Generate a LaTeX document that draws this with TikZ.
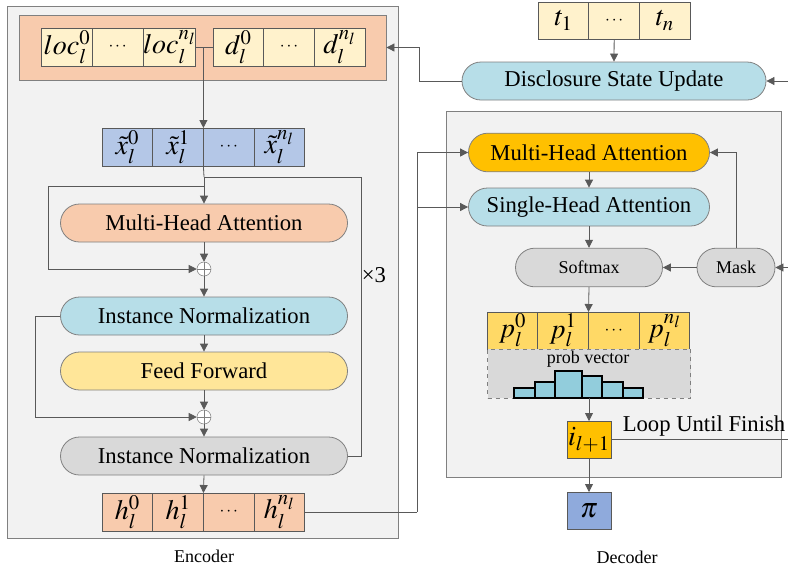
\documentclass[tikz,border=0pt]{standalone}
\usepackage{mathptmx}
\usepackage[no-math]{fontspec}
\setmainfont{Liberation Serif}
\usepackage{tikz}
\usetikzlibrary{arrows.meta, positioning, shapes.misc}
\definecolor{framegray}{HTML}{F2F2F2}
\definecolor{peach}{HTML}{F8CBAD}
\definecolor{cream}{HTML}{FFF2CC}
\definecolor{lavender}{HTML}{B4C7E7}
\definecolor{skyblue}{HTML}{B7DEE8}
\definecolor{butter}{HTML}{FFE699}
\definecolor{greyfill}{HTML}{D9D9D9}
\definecolor{amber}{HTML}{FFC000}
\definecolor{gold}{HTML}{FFD966}
\definecolor{bartone}{HTML}{92CDDC}
\definecolor{piblue}{HTML}{8FAADC}
\definecolor{linegray}{HTML}{595959}
\newcommand{\celldots}{{\fontsize{13}{15}\selectfont$\cdots$}}
\tikzset{edge/.style = {draw=linegray, line width=0.6pt, -{Triangle[length=6pt,width=6pt]}}}
\tikzset{wire/.style = {draw=linegray, line width=0.6pt}}
\tikzset{big/.style = {font=\fontsize{17}{20}\selectfont}}
\tikzset{small/.style = {font=\fontsize{13.5}{16}\selectfont}}
\tikzset{block/.style = {rounded rectangle, draw=gray, line width=0.6pt, minimum width=215.25pt, minimum height=28.5pt, inner sep=0pt, big}}
\tikzset{cell/.style = {rectangle, draw=black!65, line width=0.6pt, minimum width=38pt, minimum height=28.5pt, inner sep=0pt, outer sep=0pt, font=\fontsize{21}{24}\selectfont}}
\tikzset{plus/.style = {circle, draw=gray, fill=white, minimum size=10.5pt, inner sep=0pt,
    path picture={\draw[gray] (path picture bounding box.north) -- (path picture bounding box.south)
                               (path picture bounding box.west) -- (path picture bounding box.east);}}}

\begin{document}
\begin{tikzpicture}[x=0.75pt, y=-0.75pt]
                    \useasboundingbox (0,0) rectangle (788,569);

                    % Encoder frame
                    \draw[gray, fill=framegray, line width=0.6pt] (7,6) rectangle (398,538);

                    % State block with location and demand cells
                    \node[draw=gray, fill=peach, line width=0.6pt, minimum width=275.25pt, minimum height=48.75pt] (state) at (202.5,47.5) {};
                    \node[cell, fill=cream] (loc0) at (67,47) {$loc_l^0$};
                    \node[cell, fill=cream, right=0pt of loc0] (loc1) {\celldots};
                    \node[cell, fill=cream, right=0pt of loc1] (loc2) {$loc_l^{n_l}$};
                    \node[cell, fill=cream] (d0) at (238.3,47) {$d_l^0$};
                    \node[cell, fill=cream, right=0pt of d0] (d1) {\celldots};
                    \node[cell, fill=cream, right=0pt of d1] (d2) {$d_l^{n_l}$};

                    % Embedding row
                    \node[cell, fill=lavender] (xt0) at (127.4,147) {$\tilde{x}_l^0$};
                    \node[cell, fill=lavender, right=0pt of xt0] (xt1) {$\tilde{x}_l^1$};
                    \node[cell, fill=lavender, right=0pt of xt1] (xt2) {\celldots};
                    \node[cell, fill=lavender, right=0pt of xt2] (xt3) {$\tilde{x}_l^{n_l}$};

                    % Encoder layer
                    \node[block, fill=peach] (emha) at (204,223) {Multi-Head Attention};
                    \node[plus] (add1) at (204,269) {};
                    \node[block, fill=skyblue] (norm1) at (204,316) {Instance Normalization};
                    \node[block, fill=butter] (ffn) at (204,371) {Feed Forward};
                    \node[plus] (add2) at (204,417) {};
                    \node[block, fill=greyfill] (norm2) at (204,456) {Instance Normalization};
                    \node[big] (times) at (374,275) {×3};

                    % Encoder output row
                    \node[cell, fill=peach] (h0) at (127.4,512) {$h_l^0$};
                    \node[cell, fill=peach, right=0pt of h0] (h1) {$h_l^1$};
                    \node[cell, fill=peach, right=0pt of h1] (h2) {\celldots};
                    \node[cell, fill=peach, right=0pt of h2] (h3) {$h_l^{n_l}$};
                    \node[small] (enclabel) at (204,556) {Encoder};

                    % Decoder frame
                    \draw[gray, fill=framegray, line width=0.6pt] (446,111) rectangle (781,477);

                    % Task row and state update
                    \node[cell, fill=cream, minimum height=27.75pt] (t0) at (563.5,20.5) {$t_1$};
                    \node[cell, fill=cream, minimum height=27.75pt, right=0pt of t0] (t1) {\celldots};
                    \node[cell, fill=cream, minimum height=27.75pt, right=0pt of t1] (t2) {$t_n$};
                    \node[block, fill=skyblue, minimum width=228pt] (dsu) at (614,81) {Disclosure State Update};

                    % Decoder layer
                    \node[block, fill=amber, minimum width=180.75pt, minimum height=29pt] (dmha) at (589,152.5) {Multi-Head Attention};
                    \node[block, fill=skyblue, minimum width=180.75pt] (dsha) at (589,207) {Single-Head Attention};
                    \node[block, small, fill=greyfill, minimum width=110.25pt, minimum height=29pt] (softmax) at (589,267.5) {Softmax};
                    \node[block, small, fill=greyfill, minimum width=58.5pt, minimum height=29pt] (mask) at (736,267.5) {Mask};

                    % Probability row and vector
                    \node[cell, fill=gold, minimum height=27.75pt] (p0) at (512.5,330.5) {$p_l^0$};
                    \node[cell, fill=gold, minimum height=27.75pt, right=0pt of p0] (p1) {$p_l^1$};
                    \node[cell, fill=gold, minimum height=27.75pt, right=0pt of p1] (p2) {\celldots};
                    \node[cell, fill=gold, minimum height=27.75pt, right=0pt of p2] (p3) {$p_l^{n_l}$};
                    \node[draw=gray, dashed, fill=greyfill, minimum width=152.25pt, minimum height=36.75pt, inner sep=0pt] (prob) at (589,373.5) {};
                    \node[small] (problabel) at (588,359) {prob vector};
                    \foreach \xa/\xb/\yt in {514/535/388, 535/555/382, 555/582/371, 582/602/376, 602/623/382, 623/643/388}
                        \draw[fill=bartone, line width=0.9pt] (\xa,398) rectangle (\xb,\yt);

                    % Selected node and solution
                    \node[cell, fill=amber, minimum width=33pt, minimum height=27.75pt] (next) at (589,439.5) {$i_{l+1}$};
                    \node[cell, fill=piblue, minimum width=33pt, minimum height=27.75pt] (pi) at (589,510.5) {$\pi$};
                    \node[big] (looptext) at (704,426) {Loop Until Finish};
                    \node[small] (declabel) at (627,557) {Decoder};

                    % Free ends at the right border
                    \coordinate (fbtop) at (788,81);
                    \coordinate (fbmask) at (788,267.5);
                    \coordinate (loopend) at (788,439.5);
                    \coordinate (split) at (204,177);
                    \coordinate (res) at (204,186);
                    \coordinate (bus) at (417,512);

                    % Path from state to embedding
                    \draw[wire] (loc2.east) -- (d0.west);
                    \draw[edge] (xt1.north east |- loc2.east) -- (xt1.north east);

                    % Encoder paths
                    \draw[wire] (xt1.south east) -- (split);
                    \draw[edge] (split) -- (emha.north);
                    \draw[edge] (res) -- (48,186) |- (add1.west);
                    \draw[wire] (split) -- (361,177) |- (norm2.east);
                    \draw[edge] (emha.south) -- (add1.north);
                    \draw[edge] (add1.south) -- (norm1.north);
                    \draw[edge] (norm1.south) -- (ffn.north);
                    \draw[edge] (norm1.west) -- (35,316) |- (add2.west);
                    \draw[edge] (ffn.south) -- (add2.north);
                    \draw[edge] (add2.south) -- (norm2.north);
                    \draw[edge] (norm2.south) -- (h1.north east);

                    % Encoder output into decoder
                    \draw[wire] (h3.east) -- (bus);
                    \draw[edge] (bus) |- (dmha.west);
                    \draw[edge] (bus |- dsha.west) -- (dsha.west);

                    % State update paths
                    \draw[edge] (t1.south) -- (dsu.north);
                    \draw[edge] (dsu.west) -- (419,81) |- (state.east);
                    \draw[edge] (fbtop) -- (dsu.east);

                    % Decoder paths
                    \draw[edge] (dmha.south) -- (dsha.north);
                    \draw[edge] (dsha.south) -- (softmax.north);
                    \draw[edge] (mask.north) |- (dmha.east);
                    \draw[edge] (fbmask) -- (mask.east);
                    \draw[edge] (mask.west) -- (softmax.east);
                    \draw[edge] (softmax.south) -- (p1.north east);
                    \draw[edge] (prob.south) -- (next.north);
                    \draw[wire] (next.east) -- (loopend);
                    \draw[edge] (next.south) -- (pi.north);
                \end{tikzpicture}
\end{document}
